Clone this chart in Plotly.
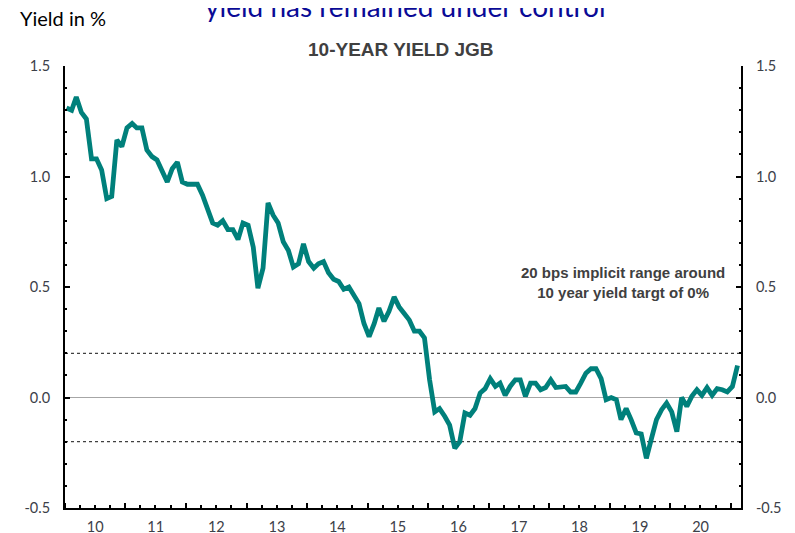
import pandas as pd
import plotly.graph_objects as go

# Monthly 10-year JGB yield, Jan 2010 - Feb 2021 (in %)
yields = [
    1.31, 1.30, 1.36, 1.29, 1.26, 1.08, 1.08, 1.03, 0.90, 0.91, 1.165, 1.135,
    1.22, 1.24, 1.22, 1.22, 1.12, 1.09, 1.075, 1.025, 0.975, 1.035, 1.065, 0.975,
    0.965, 0.965, 0.965, 0.915, 0.85, 0.79, 0.78, 0.80, 0.76, 0.76, 0.715, 0.79,
    0.78, 0.68, 0.495, 0.585, 0.88, 0.825, 0.79, 0.705, 0.665, 0.59, 0.605, 0.695,
    0.615, 0.585, 0.605, 0.615, 0.565, 0.535, 0.525, 0.49, 0.50, 0.46, 0.425, 0.335,
    0.275, 0.335, 0.405, 0.345, 0.39, 0.455, 0.41, 0.38, 0.35, 0.30, 0.30, 0.27,
    0.08, -0.065, -0.05, -0.085, -0.125, -0.23, -0.20, -0.07, -0.08, -0.05, 0.02, 0.04,
    0.085, 0.05, 0.065, 0.01, 0.05, 0.08, 0.08, 0.005, 0.065, 0.065, 0.035, 0.045,
    0.08, 0.045, 0.05, 0.05, 0.025, 0.025, 0.065, 0.11, 0.13, 0.13, 0.085, -0.01,
    0.0, -0.01, -0.10, -0.05, -0.10, -0.16, -0.165, -0.275, -0.185, -0.10, -0.055, -0.025,
    -0.065, -0.155, 0.0, -0.04, 0.005, 0.035, 0.01, 0.045, 0.01, 0.04, 0.035, 0.025,
    0.05, 0.145,
]
dates = pd.date_range("2010-01-01", periods=len(yields), freq="MS") + pd.Timedelta(days=9)

band = [0.2, -0.2]  # implicit range around 0% target
y_ticks = [-0.5, 0.0, 0.5, 1.0, 1.5]
y_labels = ["-0.5", "0.0", "0.5", "1.0", "1.5"]
x_range = ["2010-01-01", "2021-03-03"]
y_range = [-0.5, 1.5]

teal = "#00807B"
grey_txt = "#404040"

fig = go.Figure()
fig.add_trace(go.Scatter(x=dates, y=yields, mode="lines",
                         line=dict(color=teal, width=4.8),
                         showlegend=False, hoverinfo="x+y"))
# invisible copy so the right-hand axis is drawn
fig.add_trace(go.Scatter(x=dates, y=yields, mode="lines", yaxis="y2",
                         line=dict(width=0), opacity=0,
                         showlegend=False, hoverinfo="skip"))

for b in band:
    fig.add_shape(type="line", xref="paper", x0=0, x1=1, yref="y", y0=b, y1=b,
                  line=dict(color=grey_txt, width=1.3, dash="dot"), layer="below")

tick_font = dict(family="Lato", size=14.5, color="#3c4048")
yax = dict(range=y_range, tickvals=y_ticks, ticktext=y_labels,
           ticks="inside", ticklen=5, tickwidth=2, tickcolor="black",
           showline=True, linecolor="black", linewidth=2, automargin=False,
           showgrid=False, tickfont=tick_font, ticklabelstandoff=10,
           minor=dict(dtick=0.1, tick0=0, ticks="inside", ticklen=2, tickwidth=2,
                      tickcolor="black", showgrid=False))

fig.update_layout(
    width=795, height=533,
    margin=dict(l=57, r=62, t=58, b=33),
    paper_bgcolor="white", plot_bgcolor="white",
    xaxis=dict(range=x_range, type="date", tick0="2010-01-01", dtick="M12",
               tickformat="%y", ticklabelmode="period", automargin=False,
               ticks="inside", ticklen=5, tickwidth=2, tickcolor="black",
               showline=True, linecolor="black", linewidth=2,
               showgrid=False, zeroline=False, tickfont=tick_font,
               ticklabelstandoff=5,
               minor=dict(dtick="M3", ticks="inside", ticklen=3, tickwidth=2,
                          tickcolor="black", showgrid=False)),
    yaxis=dict(**yax, zeroline=True, zerolinecolor="#a6a6a6", zerolinewidth=1),
    yaxis2=dict(**yax, overlaying="y", side="right", zeroline=False),
    annotations=[
        dict(text="yield has remained under control", xref="paper", yref="paper",
             x=0.503, y=1.135, xanchor="center", yanchor="middle", showarrow=False,
             font=dict(family="Lato", size=28, color="#0A0A96")),
        dict(text="Yield in %", xref="paper", yref="paper",
             x=-0.07, y=1.108, xanchor="left", yanchor="middle", showarrow=False,
             font=dict(family="Lato", size=20, color="black")),
        dict(text="<b>10-YEAR YIELD JGB</b>", xref="paper", yref="paper",
             x=0.497, y=1.038, xanchor="center", yanchor="middle", showarrow=False,
             font=dict(family="Liberation Sans", size=19, color=grey_txt)),
        dict(text="<b>20 bps implicit range around<br>10 year yield targt of 0%</b>",
             xref="paper", yref="y", x=0.825, y=0.52, xanchor="center",
             yanchor="middle", showarrow=False, align="center",
             font=dict(family="Liberation Sans", size=15, color=grey_txt)),
    ],
)

fig.write_html("out.html")
